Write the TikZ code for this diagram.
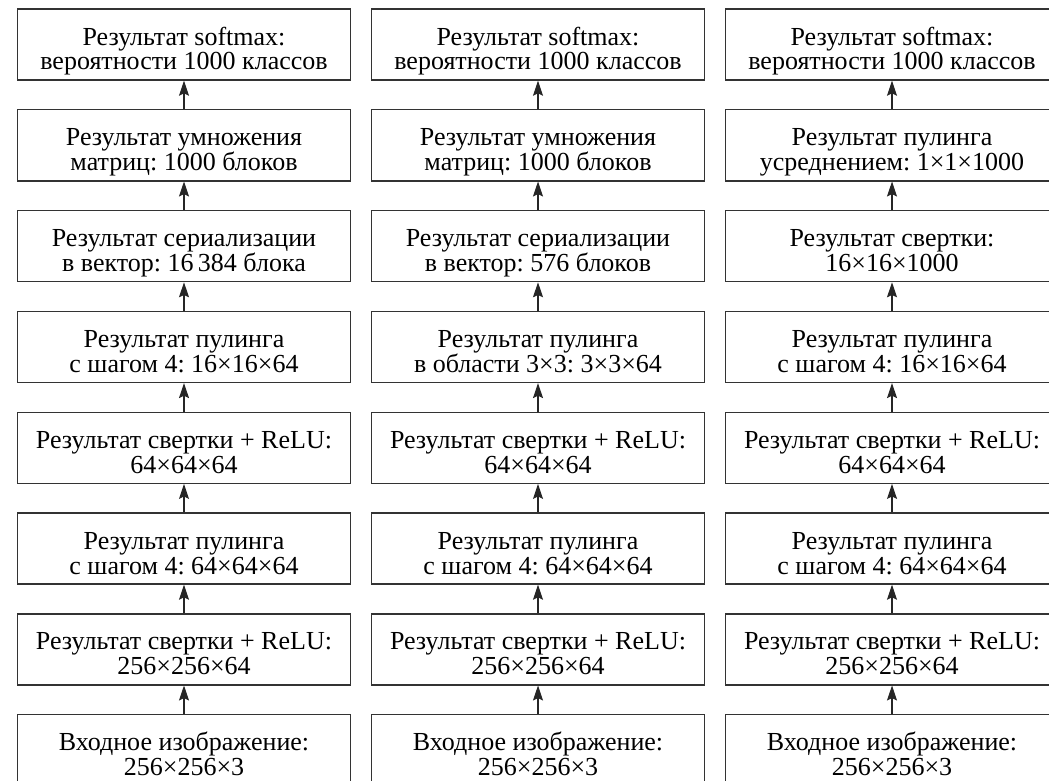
\documentclass[tikz,border=0pt]{standalone}
\usepackage{fontspec}
\setmainfont{Liberation Serif}
\frenchspacing
\usetikzlibrary{positioning,arrows.meta}

\tikzset{
    stage/.style={draw=black!80, line width=0.7pt, minimum width=166.5pt,
        minimum height=35.5pt, inner sep=2pt, align=center,
        text height=28.5pt, text depth=3pt,
        font=\fontsize{13}{12.5}\selectfont},
    flow/.style={-{Stealth[length=7.5pt,width=5pt,inset=1.2pt]},
        line width=0.55pt, black!85}
}

\begin{document}
\begin{tikzpicture}[x=0.5pt, y=-0.5pt, node distance=14.2pt and 9.8pt]
    \clip (0,0) rectangle (1049,781);
    \useasboundingbox (0,0) rectangle (1049,781);

    % first network
    \node[stage] (softA) at (184,44.5) {Результат softmax:\\вероятности 1000 классов};
    \node[stage, below=of softA] (multA) {Результат умножения\\матриц: 1000 блоков};
    \node[stage, below=of multA] (flatA) {Результат сериализации\\в вектор: 16\,384 блока};
    \node[stage, below=of flatA] (poolbA) {Результат пулинга\\с шагом 4: 16×16×64};
    \node[stage, below=of poolbA] (convbA) {Результат свертки + ReLU:\\64×64×64};
    \node[stage, below=of convbA] (poolA) {Результат пулинга\\с шагом 4: 64×64×64};
    \node[stage, below=of poolA] (convA) {Результат свертки + ReLU:\\256×256×64};
    \node[stage, below=of convA] (inA) {Входное изображение:\\256×256×3};

    % second network
    \node[stage, right=of softA] (softB) {Результат softmax:\\вероятности 1000 классов};
    \node[stage, below=of softB] (multB) {Результат умножения\\матриц: 1000 блоков};
    \node[stage, below=of multB] (flatB) {Результат сериализации\\в вектор: 576 блоков};
    \node[stage, below=of flatB] (poolbB) {Результат пулинга\\в области 3×3: 3×3×64};
    \node[stage, below=of poolbB] (convbB) {Результат свертки + ReLU:\\64×64×64};
    \node[stage, below=of convbB] (poolB) {Результат пулинга\\с шагом 4: 64×64×64};
    \node[stage, below=of poolB] (convB) {Результат свертки + ReLU:\\256×256×64};
    \node[stage, below=of convB] (inB) {Входное изображение:\\256×256×3};

    % third network
    \node[stage, right=of softB] (softC) {Результат softmax:\\вероятности 1000 классов};
    \node[stage, below=of softC] (avgC) {Результат пулинга\\усреднением: 1×1×1000};
    \node[stage, below=of avgC] (convcC) {Результат свертки:\\16×16×1000};
    \node[stage, below=of convcC] (poolbC) {Результат пулинга\\с шагом 4: 16×16×64};
    \node[stage, below=of poolbC] (convbC) {Результат свертки + ReLU:\\64×64×64};
    \node[stage, below=of convbC] (poolC) {Результат пулинга\\с шагом 4: 64×64×64};
    \node[stage, below=of poolC] (convC) {Результат свертки + ReLU:\\256×256×64};
    \node[stage, below=of convC] (inC) {Входное изображение:\\256×256×3};

    \foreach \net in {A,B} {
        \foreach \a/\b in {in/conv, conv/pool, pool/convb, convb/poolb,
                           poolb/flat, flat/mult, mult/soft}
            \draw[flow] (\a\net) -- (\b\net);
    }
    \foreach \a/\b in {in/conv, conv/pool, pool/convb, convb/poolb,
                       poolb/convc, convc/avg, avg/soft}
        \draw[flow] (\a C) -- (\b C);
\end{tikzpicture}
\end{document}
